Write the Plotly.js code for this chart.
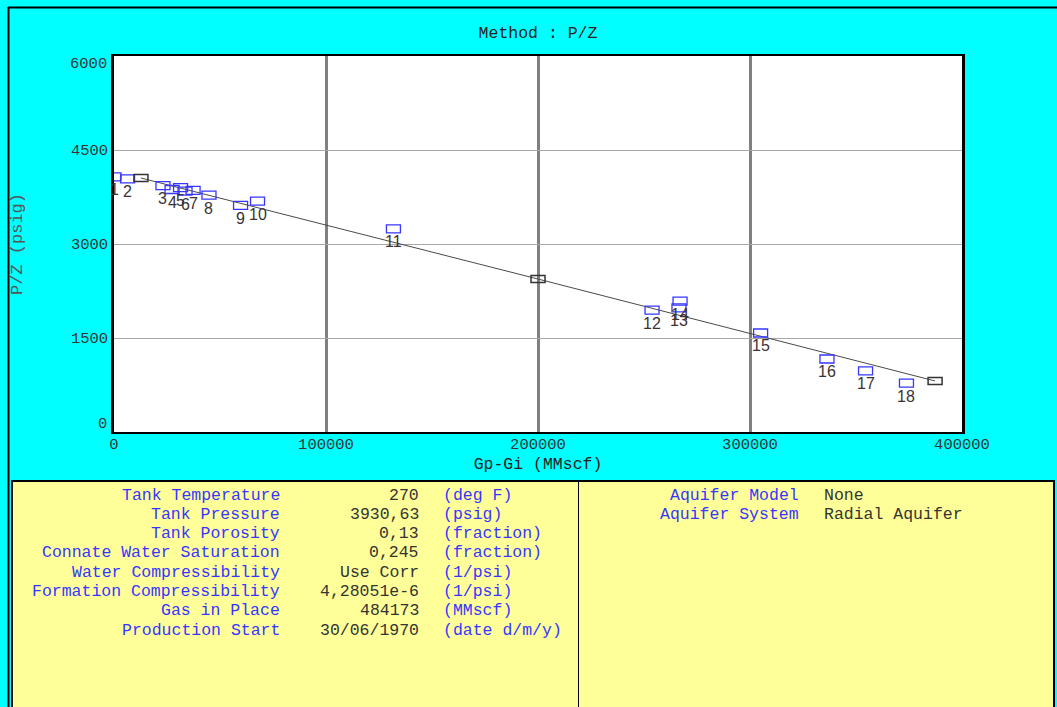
<!DOCTYPE html>
<html><head><meta charset="utf-8">
<script src="https://cdn.plot.ly/plotly-3.0.1.min.js"></script>
<style>html,body{margin:0;padding:0;background:#00ffff;overflow:hidden}#chart{width:1057px;height:707px}</style>
</head><body><div id="chart"></div><script>
// ---- data ----
const pointLabels = ['1','2','3','4','5','6','7','8','9','10','11','12','13','14','15','16','17','18'];
const gpGi = [0, 6400, 23100, 27400, 31400, 33500, 37300, 44800, 59700, 67700, 131800, 253800, 266500, 267000, 305000, 336300, 354500, 373800];
const pz   = [4070, 4040, 3930, 3870, 3900, 3845, 3855, 3780, 3615, 3685, 3240, 1945, 1980, 2090, 1580, 1165, 975, 780];
const fitX = [12700, 200000, 387300];
const fitY = [4053, 2441, 814];
const xTickVals = [0, 100000, 200000, 300000, 400000];
const xTickText = ['0', '100000', '200000', '300000', '400000'];
const yTickVals = [0, 1500, 3000, 4500, 6000];
const yTickText = ['0', '1500', '3000', '4500', '6000'];
const tankLabels = ['Tank Temperature','Tank Pressure','Tank Porosity','Connate Water Saturation','Water Compressibility','Formation Compressibility','Gas in Place','Production Start'];
const tankValues = ['270','3930,63','0,13','0,245','Use Corr','4,28051e-6','484173','30/06/1970'];
const tankUnits  = ['(deg F)','(psig)','(fraction)','(fraction)','(1/psi)','(1/psi)','(MMscf)','(date d/m/y)'];
const aquiferLabels = ['Aquifer Model','Aquifer System'];
const aquiferValues = ['None','Radial Aquifer'];

// ---- layout helpers (pixel -> paper) ----
const L = 114, R = 962, T = 56, B = 432, W = 1057, H = 707;
const xp = px => (px - L) / (R - L);
const yp = py => (B - py) / (B - T);
const MONO = 'Liberation Mono, Courier New, monospace';
const SANS = 'Liberation Sans, Arial, sans-serif';
const BLUE = '#3636ff';

const traces = [{
  x: fitX, y: fitY, type: 'scatter', mode: 'lines',
  line: {color: '#4a4a4a', width: 1}, hoverinfo: 'skip', showlegend: false
}, {
  x: gpGi, y: pz, type: 'scatter', mode: 'markers',
  marker: {size: 1, opacity: 0}, hoverinfo: 'x+y', showlegend: false
}];

const shapes = [];
// page frame
shapes.push({type:'line', xref:'paper', yref:'paper', x0:xp(8.5), x1:xp(8.5), y0:yp(7), y1:yp(H+5), line:{color:'#000', width:2}});
shapes.push({type:'line', xref:'paper', yref:'paper', x0:xp(8), x1:xp(W+5), y0:yp(7.5), y1:yp(7.5), line:{color:'#000', width:2}});
// bottom info panel
shapes.push({type:'rect', xref:'paper', yref:'paper', x0:xp(12), x1:xp(1054), y0:yp(H+10), y1:yp(481), fillcolor:'#ffff99', line:{color:'#000', width:2}, layer:'below'});
shapes.push({type:'line', xref:'paper', yref:'paper', x0:xp(578.5), x1:xp(578.5), y0:yp(481), y1:yp(H+5), line:{color:'#000', width:1}});
// data point boxes
gpGi.forEach((x, i) => shapes.push({type:'rect', xref:'x', yref:'y', xsizemode:'pixel', ysizemode:'pixel',
  xanchor:x, yanchor:pz[i], x0:-7, x1:7, y0:-4, y1:4, line:{color:BLUE, width:1.3}}));
// fitted line markers
fitX.forEach((x, i) => shapes.push({type:'rect', xref:'x', yref:'y', xsizemode:'pixel', ysizemode:'pixel',
  xanchor:x, yanchor:fitY[i], x0:-7, x1:7, y0:-3.5, y1:3.5, line:{color:'#333', width:1.5}}));

const annotations = [];
gpGi.forEach((x, i) => annotations.push({x:x, y:pz[i], xref:'x', yref:'y', text:pointLabels[i], showarrow:false,
  yshift:-13, font:{family:SANS, size:16, color:'#3a3333'}}));
// end tick labels of the y axis, nudged inward as in the reference
annotations.push({x:0, y:yTickVals[0], xref:'paper', yref:'y', text:yTickText[0], showarrow:false, xanchor:'right', xshift:-5, yshift:8, font:{family:MONO, size:15.5, color:'#333'}});
annotations.push({x:0, y:yTickVals[4], xref:'paper', yref:'y', text:yTickText[4], showarrow:false, xanchor:'right', xshift:-5, yshift:-8, font:{family:MONO, size:15.5, color:'#333'}});
// info panel text
const rowY = i => yp(495 + i * 19.3);
tankLabels.forEach((t, i) => {
  annotations.push({x:xp(282), y:rowY(i), xref:'paper', yref:'paper', text:t, showarrow:false, xanchor:'right', yanchor:'middle', font:{family:MONO, size:16.5, color:BLUE}});
  annotations.push({x:xp(421), y:rowY(i), xref:'paper', yref:'paper', text:tankValues[i], showarrow:false, xanchor:'right', yanchor:'middle', font:{family:MONO, size:16.5, color:'#333'}});
  annotations.push({x:xp(441), y:rowY(i), xref:'paper', yref:'paper', text:tankUnits[i], showarrow:false, xanchor:'left', yanchor:'middle', font:{family:MONO, size:16.5, color:BLUE}});
});
aquiferLabels.forEach((t, i) => {
  annotations.push({x:xp(801), y:rowY(i), xref:'paper', yref:'paper', text:t, showarrow:false, xanchor:'right', yanchor:'middle', font:{family:MONO, size:16.5, color:BLUE}});
  annotations.push({x:xp(822), y:rowY(i), xref:'paper', yref:'paper', text:aquiferValues[i], showarrow:false, xanchor:'left', yanchor:'middle', font:{family:MONO, size:16.5, color:'#333'}});
});

const layout = {
  width: W, height: H,
  margin: {l: L, r: W - R, t: T, b: H - B, pad: 0},
  paper_bgcolor: '#00ffff', plot_bgcolor: '#ffffff',
  showlegend: false,
  title: {text: 'Method : P/Z', x: 0.5, xref: 'paper', xanchor: 'center', y: 1 - 32 / H, yref: 'container', yanchor: 'middle',
          font: {family: MONO, size: 16.5, color: '#222'}},
  xaxis: {range: [0, 400000], tickvals: xTickVals, ticktext: xTickText, ticks: '', ticklabelstandoff: -4,
          showgrid: true, gridcolor: '#808080', gridwidth: 3, zeroline: false,
          showline: true, linecolor: '#000', linewidth: 2, mirror: true,
          tickfont: {family: MONO, size: 15.5, color: '#333'},
          title: {text: 'Gp-Gi (MMscf)', standoff: 5, font: {family: MONO, size: 16.5, color: '#222'}},
          fixedrange: true, automargin: false},
  yaxis: {range: [0, 6000], tickvals: yTickVals.slice(1, 4), ticktext: yTickText.slice(1, 4), ticks: '',
          showgrid: true, gridcolor: '#a8a8a8', gridwidth: 1, zeroline: false,
          showline: true, linecolor: '#000', linewidth: 2.5, mirror: true,
          tickfont: {family: MONO, size: 15.5, color: '#333'},
          title: {text: 'P/Z (psig)', standoff: 44, font: {family: MONO, size: 17, color: '#555'}},
          fixedrange: true, automargin: false},
  shapes: shapes,
  annotations: annotations
};

Plotly.newPlot('chart', traces, layout, {displayModeBar: false, responsive: false});
</script></body></html>
